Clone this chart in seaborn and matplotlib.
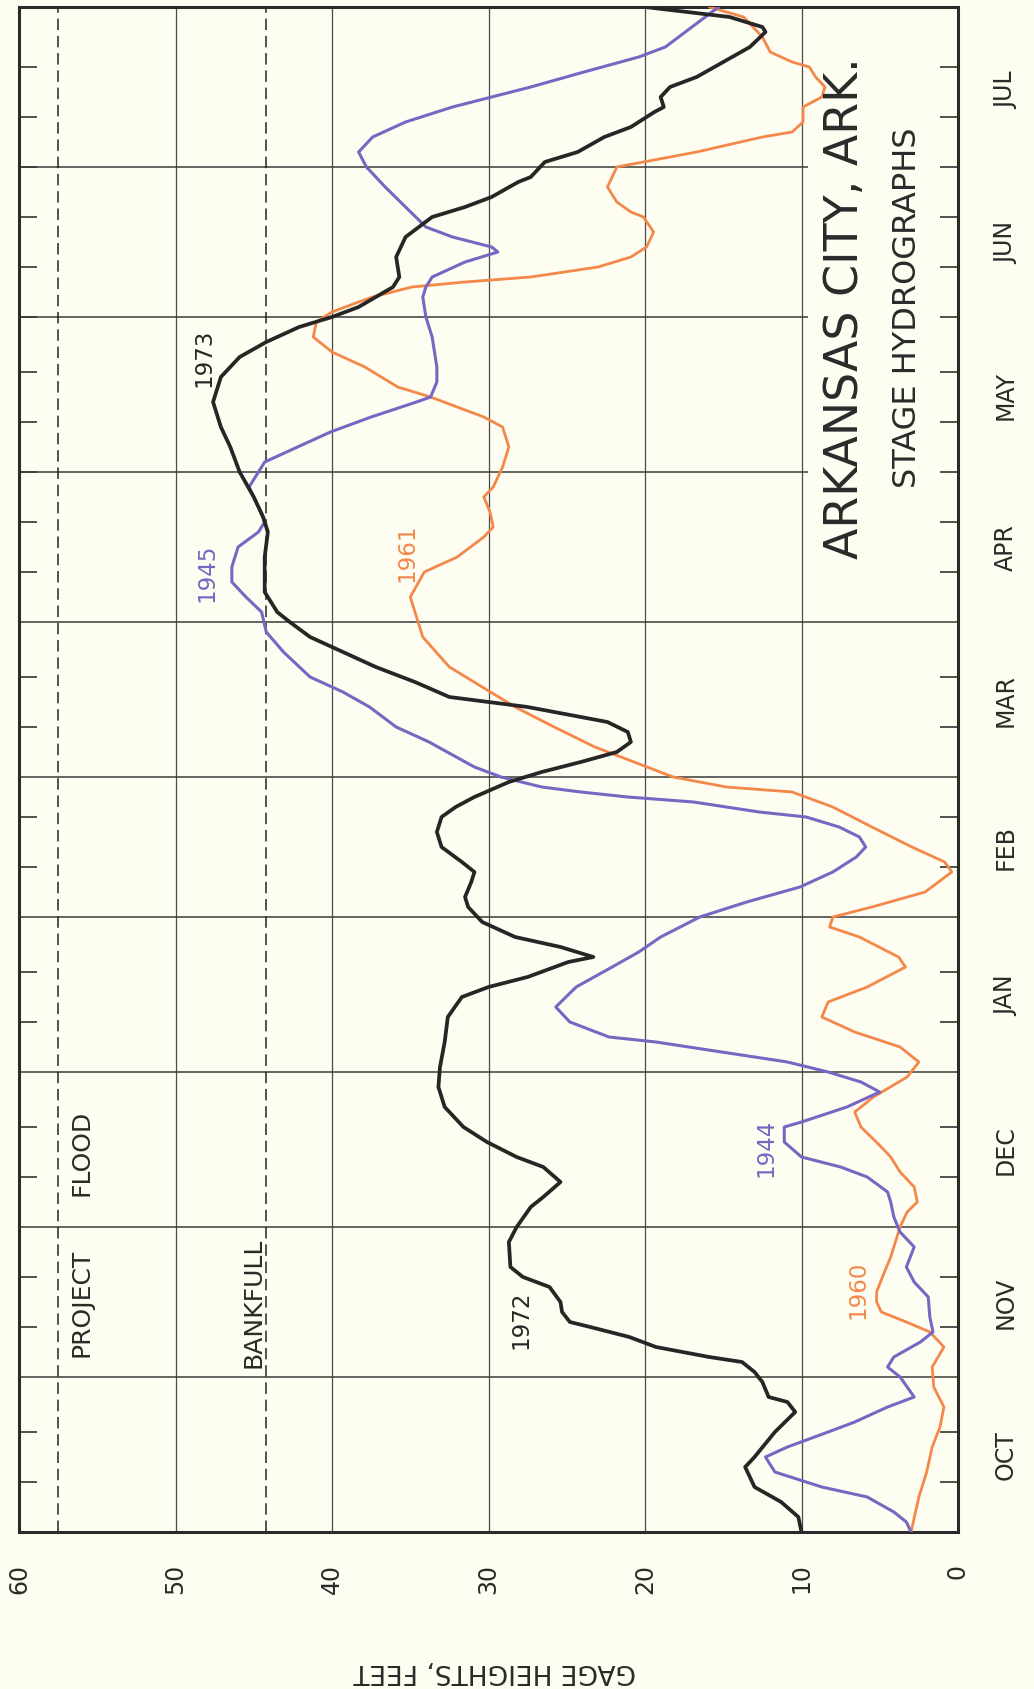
import numpy as np
import pandas as pd
import matplotlib
matplotlib.use("Agg")
import matplotlib.pyplot as plt
import matplotlib.transforms as mtransforms
import seaborn as sns

# ---------------- data ----------------
month_labels = ["OCT", "NOV", "DEC", "JAN", "FEB", "MAR", "APR", "MAY", "JUN", "JUL"]
month_days = [31, 30, 31, 31, 28, 31, 30, 31, 30, 31]
gage_ticks = [60, 50, 40, 30, 20, 10, 0]
bankfull_stage = 44.2
project_flood_stage = 57.5

# days counted from Oct 1 ; stage in feet
day_1972_73 = [0, 3, 6, 9, 13, 15, 20, 24, 26, 27, 30, 32, 34, 35, 37, 39, 41, 42, 44, 46,
               49, 51, 53, 58, 61, 65, 67, 70, 73, 75, 78, 81, 85, 89, 93, 98, 103, 107, 109, 111,
               114, 115, 117, 119, 122, 125, 127, 130, 132, 134, 137, 140, 143, 145, 147, 150, 152, 154, 156, 158,
               160, 162, 163, 165, 166, 167, 170, 173, 176, 179, 182, 184, 188, 195, 200, 203, 207, 212, 217, 221,
               226, 231, 235, 238, 241, 243, 245, 249, 251, 255, 259, 263, 265, 267, 270, 271, 274, 276, 279, 281,
               284, 285, 287, 289, 291, 294, 297, 300, 301, 303, 305]
stage_1972_73 = [10.0, 10.2, 11.3, 13.0, 13.6, 13.0, 11.7, 10.4, 10.9, 12.1, 12.5, 13.0, 13.8, 15.9, 19.3, 21.0, 23.5, 24.8, 25.3, 25.4,
                 26.1, 27.8, 28.6, 28.7, 28.2, 27.3, 26.5, 25.4, 26.5, 28.2, 30.1, 31.6, 32.8, 33.2, 33.1, 32.8, 32.6, 31.7, 30.0, 27.5,
                 24.9, 23.3, 25.4, 28.3, 30.4, 31.3, 31.5, 31.1, 30.9, 31.7, 33.0, 33.3, 33.0, 32.1, 30.9, 28.7, 26.6, 24.1, 21.8, 20.9,
                 21.1, 22.4, 24.1, 27.5, 30.0, 32.5, 34.7, 37.2, 39.3, 41.4, 42.7, 43.5, 44.3, 44.3, 44.1, 44.4, 45.0, 45.9, 46.5, 47.1,
                 47.6, 47.1, 45.9, 44.2, 42.1, 40.0, 38.3, 36.1, 35.7, 35.9, 35.3, 33.6, 31.5, 29.8, 28.1, 27.3, 26.4, 24.3, 22.6, 20.9,
                 19.4, 18.8, 19.0, 18.4, 16.7, 15.0, 13.3, 12.3, 12.5, 14.6, 20.0]

day_1944_45 = [0, 2, 4, 7, 9, 12, 15, 17, 20, 22, 25, 27, 31, 33, 35, 38, 40, 43, 47, 50,
               53, 57, 60, 63, 66, 68, 71, 73, 75, 78, 81, 82, 85, 88, 90, 92, 94, 96, 98, 99,
               102, 105, 109, 113, 116, 119, 123, 126, 129, 132, 135, 137, 139, 141, 143, 144, 146, 147, 148, 149,
               151, 153, 158, 161, 165, 168, 171, 176, 180, 184, 187, 190, 193, 197, 200, 202, 205, 209, 214, 217,
               220, 223, 226, 227, 230, 233, 239, 243, 247, 249, 251, 254, 256, 257, 259, 261, 265, 269, 273, 276,
               279, 282, 285, 287, 289, 292, 295, 297, 301, 305]
stage_1944_45 = [3.0, 3.3, 4.1, 5.8, 8.7, 11.7, 12.3, 10.9, 8.3, 6.6, 4.5, 2.8, 3.7, 4.5, 4.1, 2.4, 1.6, 1.8, 1.9, 2.8,
                 3.3, 2.8, 3.7, 4.1, 4.3, 4.5, 5.8, 7.5, 10.0, 11.1, 11.1, 10.0, 7.1, 5.0, 6.2, 8.3, 10.9, 15.1, 19.3, 22.3,
                 24.8, 25.7, 24.4, 22.1, 20.4, 19.0, 16.5, 13.5, 10.1, 8.0, 6.5, 5.9, 6.3, 7.6, 9.7, 12.7, 16.9, 21.1, 24.1, 26.6,
                 29.2, 30.9, 33.8, 35.9, 37.6, 39.3, 41.4, 43.1, 44.2, 44.5, 45.5, 46.4, 46.4, 46.0, 44.7, 44.3, 44.7, 45.3, 44.3, 42.2,
                 40.1, 37.5, 34.6, 33.7, 33.3, 33.3, 33.6, 34.0, 34.2, 34.0, 33.6, 31.5, 29.4, 29.8, 32.3, 34.0, 35.3, 36.6, 37.8, 38.3,
                 37.4, 35.3, 32.3, 29.8, 27.3, 23.9, 20.4, 18.7, 17.0, 15.3]

day_1960_61 = [0, 7, 12, 17, 21, 25, 29, 33, 37, 40, 42, 44, 46, 48, 52, 55, 59, 61, 64, 66,
               69, 72, 75, 77, 81, 84, 87, 91, 94, 97, 100, 103, 106, 109, 113, 115, 119, 121, 123, 125,
               128, 132, 134, 137, 141, 145, 148, 149, 151, 154, 157, 161, 165, 169, 173, 179, 183, 187, 192, 195,
               199, 201, 204, 207, 209, 213, 217, 221, 223, 225, 227, 229, 233, 236, 239, 242, 244, 246, 247, 249,
               250, 251, 253, 255, 257, 260, 263, 264, 266, 269, 273, 274, 276, 279, 280, 282, 285, 287, 289, 291,
               293, 294, 296, 299, 303, 305]
stage_1960_61 = [3.0, 2.5, 2.0, 1.65, 1.15, 0.9, 1.55, 1.65, 0.9, 1.8, 3.3, 4.9, 5.2, 5.2, 4.7, 4.3, 3.9, 3.7, 3.25, 2.6,
                 2.8, 3.7, 4.3, 4.9, 6.2, 6.6, 5.4, 3.25, 2.5, 3.7, 6.6, 8.7, 8.3, 5.8, 3.35, 3.8, 6.3, 8.2, 8.0, 5.5,
                 2.1, 0.4, 0.85, 2.95, 5.5, 8.0, 10.6, 14.8, 18.2, 20.7, 23.2, 25.8, 28.3, 30.4, 32.5, 34.2, 34.6, 35.0, 34.1, 32.0,
                 30.3, 29.7, 29.9, 30.3, 29.7, 29.1, 28.7, 29.1, 30.3, 32.0, 33.7, 35.8, 37.9, 40.0, 41.2, 41.0, 40.0, 38.3, 37.4, 34.9,
                 31.5, 27.3, 23.0, 20.9, 19.9, 19.45, 20.1, 20.9, 21.8, 22.4, 21.8, 20.1, 16.7, 12.5, 10.6, 9.9, 9.9, 8.7, 8.5, 9.1,
                 9.5, 10.6, 12.0, 12.5, 13.7, 15.9]

year_labels = ["1972", "1973", "1944", "1945", "1960", "1961"]
year_label_days = [42.6, 235, 77, 192, 48.6, 196]
year_label_stages = [27.9, 48.2, 12.3, 48.0, 6.4, 35.2]

# ---------------- style ----------------
bg = "#fdfdf1"
ink = "#2a2a2a"
c_black = "#262626"
c_purple = "#7766c2"
c_orange = "#f4874a"
year_label_colors = [c_black, c_black, c_purple, c_purple, c_orange, c_orange]

sns.set_theme(style="white")
plt.rcParams["font.family"] = ["DejaVu Sans"]
plt.rcParams["text.color"] = ink

fig = plt.figure(figsize=(10.34, 16.90), dpi=100, facecolor=bg)
ax = fig.add_axes([19 / 1034, 157 / 1690, 939 / 1034, 1525 / 1690])
ax.set_facecolor(bg)

bounds = np.cumsum([0] + month_days)
mids = bounds[:-1] + np.array(month_days) / 2.0

# grid: stage lines
for g in gage_ticks[1:-1]:
    ax.axvline(g, color="#4a4a4a", lw=0.9, zorder=1)
# grid: month lines (upper three stop at the title block)
for b in bounds[1:-1]:
    if b < 200:
        ax.axhline(b, color="#3a3a3a", lw=1.1, zorder=1)
    else:
        ax.hlines(b, 60, 9.6, color="#3a3a3a", lw=1.1, zorder=1)

# reference stages
for s in (project_flood_stage, bankfull_stage):
    ax.axvline(s, color="#222222", lw=1.1, ls=(0, (7.5, 3.8)), zorder=1)

series = [
    (day_1960_61, stage_1960_61, c_orange, 2.0),
    (day_1944_45, stage_1944_45, c_purple, 2.2),
    (day_1972_73, stage_1972_73, c_black, 2.7),
]
for days, stages, col, lw in series:
    df = pd.DataFrame({"day": days, "stage": stages})
    sns.lineplot(data=df, x="stage", y="day", orient="y", sort=False,
                 estimator=None, color=col, lw=lw, ax=ax, zorder=3,
                 solid_joinstyle="round", solid_capstyle="round")

ax.set_xlim(60, 0)
ax.set_ylim(0, 305)
ax.set_xlabel("")
ax.set_ylabel("")

# x (stage) ticks
ax.set_xticks(gage_ticks)
ax.set_xticklabels([str(t) for t in gage_ticks], rotation=90, fontsize=17, color=ink)
ax.tick_params(axis="x", length=0, pad=22)

# y (time) ticks: inner minor ticks on both sides
minor = []
for b in bounds[:-1]:
    minor += [b + 10, b + 20]
minor += list(bounds[7:10])
ax.set_yticks([])
ax.set_yticks(minor, minor=True)
ax.tick_params(axis="y", which="minor", direction="in", length=13, width=1.2,
               color="#333333", left=True, right=True, labelleft=False, labelright=False)

for sp in ax.spines.values():
    sp.set_visible(True)
    sp.set_color("#2b2b2b")
    sp.set_linewidth(2.2)

# month labels
trans = mtransforms.blended_transform_factory(ax.transAxes, ax.transData)
for m, lab in zip(mids, month_labels):
    ax.text(1.051, m, lab, transform=trans, rotation=90, ha="center", va="center",
            fontsize=17, color=ink)

# reference stage labels
ax.text(56.0, 46, "PROJECT", rotation=90, ha="center", va="center", fontsize=18, color=ink)
ax.text(56.0, 76, "FLOOD", rotation=90, ha="center", va="center", fontsize=18, color=ink)
ax.text(45.0, 46, "BANKFULL", rotation=90, ha="center", va="center", fontsize=18, color=ink)

# year labels
for lab, d, s, col in zip(year_labels, year_label_days, year_label_stages, year_label_colors):
    ax.text(s, d, lab, rotation=90, ha="center", va="center", fontsize=16.5, color=col, zorder=4)

# title block
ax.text(7.2, 245, "ARKANSAS CITY, ARK.", rotation=90, ha="center", va="center",
        fontsize=33, color=ink)
ax.text(3.2, 245, "STAGE HYDROGRAPHS", rotation=90, ha="center", va="center",
        fontsize=23, color=ink)

# axis title (upside down)
fig.text(495 / 1034, 1 - 1671 / 1690, "GAGE HEIGHTS, FEET", rotation=180,
         ha="center", va="center", fontsize=19, color=ink)

fig.savefig("out.png", dpi=100, facecolor=bg)
